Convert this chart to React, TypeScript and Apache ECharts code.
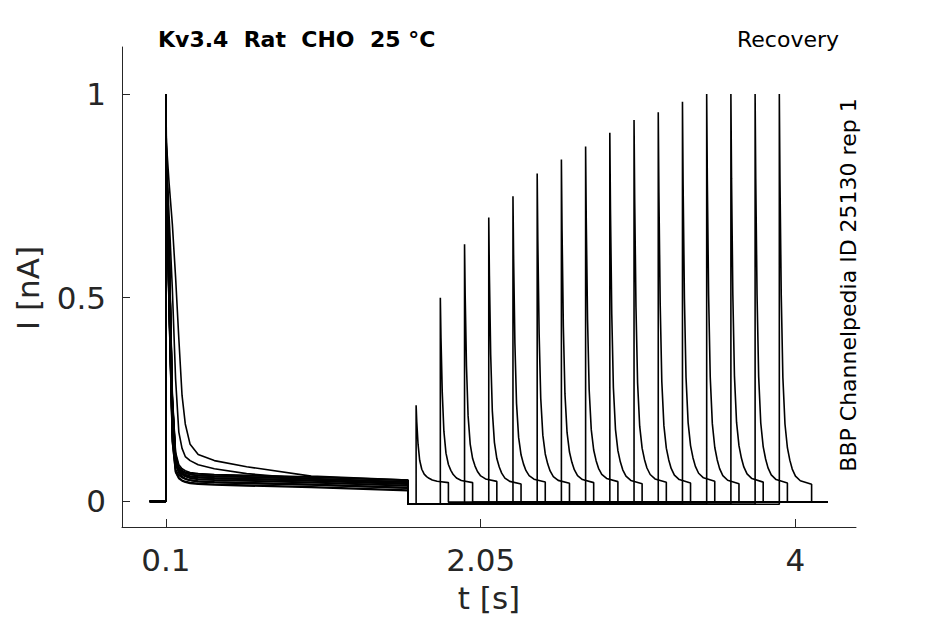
import React, { useEffect, useRef } from "react";
import * as echarts from "echarts";

// ---- data ----
// first (conditioning) pulse starts at 0.1 s; sample times relative to its onset
const FIRST_ONSET = 0.1;
const FIRST_END = 1.6;
const FIRST_T = [0, 0.003, 0.02, 0.04, 0.06, 0.08, 0.1, 0.12, 0.15, 0.2, 0.3, 0.5, 0.9, 1.5];
// decay shapes of the first pulse (nA, normalised)
const SHAPE_SLOW_A = [1, 0.88, 0.78, 0.68, 0.55, 0.4, 0.26, 0.19, 0.14, 0.115, 0.1, 0.085, 0.062, 0.052];
const SHAPE_SLOW_B = [1, 0.85, 0.7, 0.52, 0.3, 0.17, 0.13, 0.11, 0.1, 0.09, 0.08, 0.068, 0.055, 0.047];
const SHAPE_FAST_A = [1, 0.8, 0.48, 0.16, 0.085, 0.07, 0.064, 0.061, 0.058, 0.056, 0.054, 0.052, 0.048, 0.04];
const SHAPE_FAST_B = [1, 0.84, 0.62, 0.25, 0.11, 0.08, 0.07, 0.065, 0.061, 0.058, 0.056, 0.054, 0.05, 0.042];
const SHAPES: Record<string, number[]> = {
  slowA: SHAPE_SLOW_A,
  slowB: SHAPE_SLOW_B,
  fastA: SHAPE_FAST_A,
  fastB: SHAPE_FAST_B,
};

// per sweep (16 sweeps)
const SWEEP_SHAPE = ["slowA", "slowB", "fastB", "fastA", "fastB", "fastA", "fastB", "fastA", "fastB", "fastA", "fastB", "fastA", "fastB", "fastA", "fastB", "fastA"];
const SWEEP_FIRST_PEAK = [1, 0.97, 1, 0.94, 0.99, 0.96, 1, 0.98, 0.95, 1, 0.97, 0.99, 0.96, 1, 0.98, 0.95];
const SWEEP_PLATEAU_OFFSET = [0, 0, 0.01, -0.012, 0.005, -0.006, 0, 0.008, -0.009, 0.003, -0.003, 0.011, -0.01, 0.004, -0.004, -0.014];
const RECOVERY_START = [1.65, 1.8, 1.95, 2.1, 2.25, 2.4, 2.55, 2.7, 2.85, 3.0, 3.15, 3.3, 3.45, 3.6, 3.75, 3.9];
const RECOVERY_PEAK = [0.236, 0.5, 0.631, 0.697, 0.749, 0.805, 0.839, 0.871, 0.905, 0.936, 0.955, 0.981, 1, 1, 1, 1];

// test pulse decay (relative to its onset), fraction of (peak - plateau), and plateau level
const REC_T = [0, 0.004, 0.012, 0.022, 0.035, 0.05, 0.065, 0.08, 0.1, 0.13, 0.2];
const REC_F = [1, 0.78, 0.48, 0.27, 0.15, 0.09, 0.058, 0.035, 0.018, 0.007, 0];
const REC_BASE = [0.052, 0.052, 0.052, 0.051, 0.051, 0.05, 0.05, 0.05, 0.049, 0.048, 0.046];

const HOLD_LEVEL = 0;
const GAP_LEVEL = -0.007;
const POST_LEVEL = -0.002;
const TRACE_START = 0;
const TRACE_END = 4.2;

const X_TICKS = [0.1, 2.05, 4];
const Y_TICKS = [0, 0.5, 1];

const FONT = '"DejaVu Sans", "Liberation Sans", sans-serif';

function buildSweep(k: number): number[][] {
  const pts: number[][] = [];
  pts.push([TRACE_START, HOLD_LEVEL]);
  pts.push([FIRST_ONSET, HOLD_LEVEL]);
  const shape = SHAPES[SWEEP_SHAPE[k]];
  FIRST_T.forEach((dt, i) => {
    const v = i === 0 ? SWEEP_FIRST_PEAK[k] : shape[i] + SWEEP_PLATEAU_OFFSET[k];
    pts.push([FIRST_ONSET + dt, v]);
  });
  pts.push([FIRST_END, GAP_LEVEL]);
  const s = RECOVERY_START[k];
  pts.push([s, GAP_LEVEL]);
  REC_T.forEach((dt, i) => {
    const base = REC_BASE[i] + SWEEP_PLATEAU_OFFSET[k] * 0.3;
    pts.push([s + dt, base + (RECOVERY_PEAK[k] - base) * REC_F[i]]);
  });
  const e = s + REC_T[REC_T.length - 1];
  pts.push([e, POST_LEVEL]);
  pts.push([TRACE_END, POST_LEVEL]);
  return pts;
}

export default function App() {
  const ref = useRef<HTMLDivElement>(null);
  useEffect(() => {
    if (!ref.current) return;
    const chart = echarts.init(ref.current, null, { renderer: "svg" });
    const series = RECOVERY_START.map((_, k) => ({
      type: "line",
      data: buildSweep(k),
      showSymbol: false,
      symbol: "none",
      silent: true,
      lineStyle: { color: "#000", width: 1.6 },
      z: 2,
    }));
    chart.setOption({
      animation: false,
      backgroundColor: "#fff",
      grid: { left: 122, right: 89, top: 47, bottom: 97, containLabel: false },
      xAxis: {
        type: "value",
        min: -0.172,
        max: 4.375,
        axisLine: { show: true, onZero: false, lineStyle: { color: "#262626", width: 1 } },
        axisTick: { show: true, inside: true, length: 8, customValues: X_TICKS, lineStyle: { color: "#262626" } },
        axisLabel: {
          show: true,
          customValues: X_TICKS,
          margin: 17,
          color: "#262626",
          fontSize: 31,
          fontFamily: FONT,
          formatter: (v: number) => String(v),
        },
        splitLine: { show: false },
      },
      yAxis: {
        type: "value",
        min: -0.063,
        max: 1.1155,
        axisLine: { show: true, onZero: false, lineStyle: { color: "#262626", width: 1 } },
        axisTick: { show: true, inside: true, length: 8, customValues: Y_TICKS, lineStyle: { color: "#262626" } },
        axisLabel: {
          show: true,
          customValues: Y_TICKS,
          margin: 16,
          color: "#262626",
          fontSize: 31,
          fontFamily: FONT,
          formatter: (v: number) => String(v),
        },
        splitLine: { show: false },
      },
      graphic: [
        {
          type: "text",
          x: 158,
          y: 39,
          style: { text: "Kv3.4  Rat  CHO  25 °C", font: `bold 22px ${FONT}`, fill: "#000", align: "left", verticalAlign: "middle" },
        },
        {
          type: "text",
          x: 788,
          y: 39,
          style: { text: "Recovery", font: `22px ${FONT}`, fill: "#000", align: "center", verticalAlign: "middle" },
        },
        {
          type: "text",
          x: 848,
          y: 285,
          rotation: Math.PI / 2,
          style: { text: "BBP Channelpedia ID 25130 rep 1", font: `22px ${FONT}`, fill: "#000", align: "center", verticalAlign: "middle" },
        },
        {
          type: "text",
          x: 489,
          y: 598,
          style: { text: "t [s]", font: `31px ${FONT}`, fill: "#262626", align: "center", verticalAlign: "middle" },
        },
        {
          type: "text",
          x: 28,
          y: 288,
          rotation: Math.PI / 2,
          style: { text: "I [nA]", font: `31px ${FONT}`, fill: "#262626", align: "center", verticalAlign: "middle" },
        },
      ],
      series,
    });
    return () => chart.dispose();
  }, []);
  return <div ref={ref} style={{ position: "fixed", left: 0, top: 0, width: 945, height: 624 }} />;
}
